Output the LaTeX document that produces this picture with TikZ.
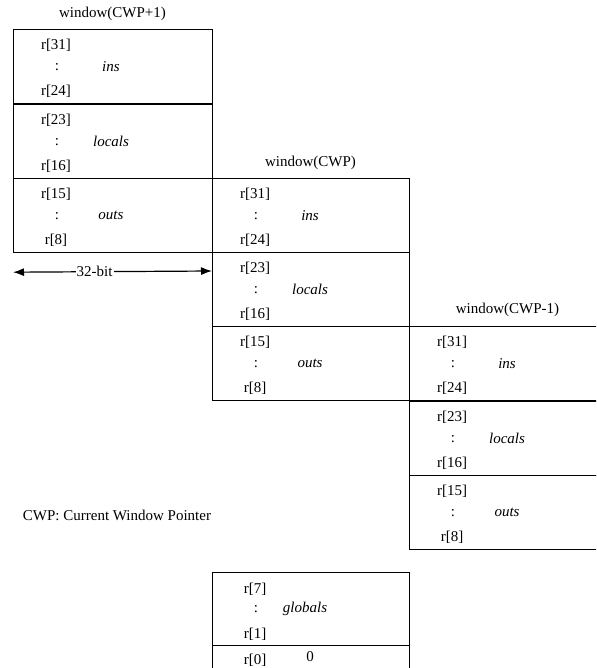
\documentclass[tikz,border=0pt]{standalone}
\usepackage{fontspec}
\setmainfont{Liberation Serif}
\usetikzlibrary{arrows.meta,calc}
\newcommand\myrow[7][197]{%
  \node[regrow, minimum width=#1pt] (#2) at (#3,#4) {};
  \node[txt] (#2a) at ($(#2.north west)+(43,16)$) {r[#5]};
  \node[txt] (#2b) at ($(#2.west)+(44,0)$) {:};
  \node[txt] (#2c) at ($(#2.south west)+(43,-13)$) {r[#6]};
  \node[lbl] (#2d) at ($(#2.west)+(98,0)$) {#7};
}
\begin{document}
\begin{tikzpicture}[x=1pt,y=-1pt,
  regrow/.style={draw, line width=1.2pt, minimum width=197pt, minimum height=74pt, anchor=north west, inner sep=0pt},
  txt/.style={font=\fontsize{15}{17}\selectfont, inner sep=0pt},
  lbl/.style={font=\fontsize{15}{17}\selectfont\itshape, inner sep=0pt},
  tip/.tip={Latex[length=11pt,width=8pt]}]
\useasboundingbox (0,0) rectangle (596,668);
\clip (0,0) rectangle (596,668);
% window CWP+1
\node[txt] (t1) at (112.5,14) {window(CWP+1)};
\myrow[199]{ainsr}{13}{29}{31}{24}{ins}
\myrow[199]{aloc}{13}{104}{23}{16}{locals}
\myrow[199]{aout}{13}{178}{15}{8}{outs}
% window CWP
\node[txt] (t2) at (310.5,163) {window(CWP)};
\myrow{binsr}{212}{178}{31}{24}{ins}
\myrow{bloc}{212}{252}{23}{16}{locals}
\myrow{bout}{212}{326}{15}{8}{outs}
% window CWP-1
\node[txt] (t3) at (507.5,310) {window(CWP-1)};
\myrow{cinsr}{409}{326}{31}{24}{ins}
\myrow{cloc}{409}{401}{23}{16}{locals}
\myrow{cout}{409}{475}{15}{8}{outs}
% globals
\node[regrow, minimum height=73pt] (g) at (212,572) {};
\node[txt] (ga) at ($(g.north west)+(43,17)$) {r[7]};
\node[txt] (gb) at ($(g.west)+(44,0)$) {:};
\node[txt] (gc) at ($(g.south west)+(43,-12)$) {r[1]};
\node[lbl] (gd) at ($(g.west)+(93,0)$) {globals};
\node[regrow] (z) at (212,645) {};
\node[txt] (za) at ($(z.north west)+(43,15)$) {r[0]};
\node[txt] (zb) at ($(z.north west)+(98,12)$) {0};
% arrow
\coordinate (al) at ($(aout.south west)+(0,19)$);
\coordinate (ar) at ($(bloc.north west)+(0,19)$);
\draw[line width=1.2pt, tip-tip] (al) -- (ar)
  node[txt, pos=0.41, fill=white, inner xsep=1pt] (bits) {32-bit};
% legend
\node[txt] (leg) at (117,515) {CWP: Current Window Pointer};
\end{tikzpicture}
\end{document}
